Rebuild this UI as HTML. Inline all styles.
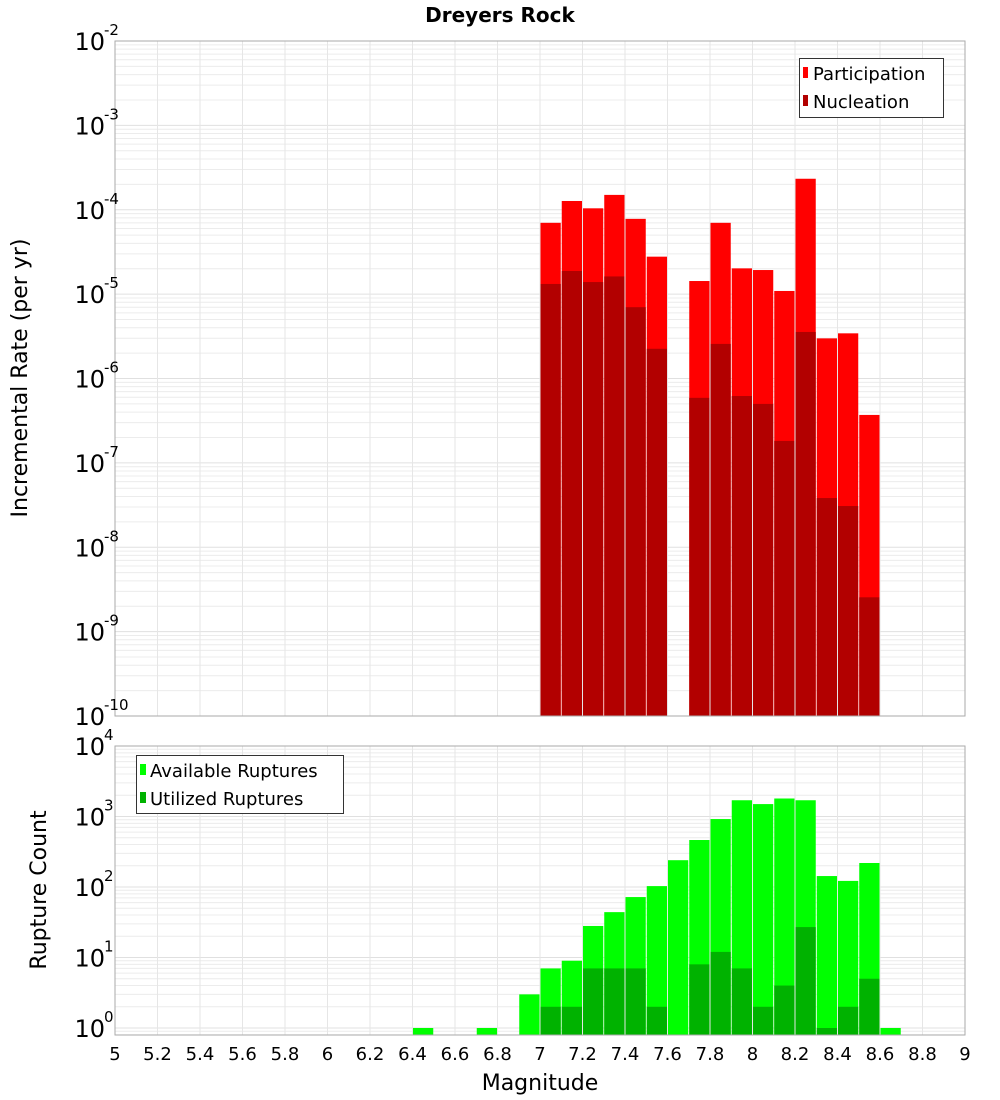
<!DOCTYPE html>
<html><head><meta charset="utf-8"><style>
body{margin:0;background:#fff;}
svg{display:block;font-family:"DejaVu Sans","Liberation Sans",sans-serif;}
</style></head><body>
<svg id="chart" width="1000" height="1100" xmlns="http://www.w3.org/2000/svg">
<text x="500" y="22" text-anchor="middle" font-size="20" font-weight="bold">Dreyers Rock</text>
<g id="topPanel"></g>
<g id="botPanel"></g>
<text transform="translate(27,378) rotate(-90)" text-anchor="middle" font-size="22">Incremental Rate (per yr)</text>
<text transform="translate(46,890) rotate(-90)" text-anchor="middle" font-size="22">Rupture Count</text>
<text x="540" y="1090" text-anchor="middle" font-size="22">Magnitude</text>
</svg>
<script>
const rateMags = [7.05,7.15,7.25,7.35,7.45,7.55,7.75,7.85,7.95,8.05,8.15,8.25,8.35,8.45,8.55];
const participation = [7.0e-5,1.27e-4,1.04e-4,1.5e-4,7.8e-5,2.78e-5,1.43e-5,7.0e-5,2.02e-5,1.93e-5,1.09e-5,2.33e-4,2.99e-6,3.43e-6,3.7e-7];
const nucleation = [1.32e-5,1.88e-5,1.39e-5,1.62e-5,7.0e-6,2.25e-6,5.9e-7,2.57e-6,6.2e-7,5.0e-7,1.82e-7,3.56e-6,3.83e-8,3.08e-8,2.55e-9];
const countMags = [6.45,6.75,6.95,7.05,7.15,7.25,7.35,7.45,7.55,7.65,7.75,7.85,7.95,8.05,8.15,8.25,8.35,8.45,8.55,8.65];
const available = [1,1,3,7,9,28,44,72,103,240,464,920,1700,1500,1800,1700,143,122,219,1];
const utilizedMags = [7.05,7.15,7.25,7.35,7.45,7.55,7.75,7.85,7.95,8.05,8.15,8.25,8.35,8.45,8.55];
const utilized = [2,2,7,7,7,2,8,12,7,2,4,27,1,2,5];
const xTicks = [5,5.2,5.4,5.6,5.8,6,6.2,6.4,6.6,6.8,7,7.2,7.4,7.6,7.8,8,8.2,8.4,8.6,8.8,9];
const rateExps = [-10,-9,-8,-7,-6,-5,-4,-3,-2];
const countExps = [0,1,2,3,4];

const NS="http://www.w3.org/2000/svg";
const L=115,R=965;
const xs=m=>L+(m-5)*(R-L)/4;
const yTop=v=>41-(Math.log10(v)+2)*84.375;
const yBot=v=>1028-Math.log10(v)*70.5;
function mk(p,t,a){const e=document.createElementNS(NS,t);for(const k in a)e.setAttribute(k,a[k]);p.appendChild(e);return e;}
const gTop=document.getElementById('topPanel'),gBot=document.getElementById('botPanel');

function grid(g,y0,y1,yf,exps){
  mk(g,'rect',{x:L,y:y0,width:R-L,height:y1-y0,fill:'#fff'});
  for(const e of exps){for(let k=1;k<10;k++){const v=k*Math.pow(10,e);const y=yf(v);if(y<y0||y>y1)continue;
    const ln=mk(g,'line',{x1:L,x2:R,y1:y,y2:y,stroke:k==1?'#e0e0e0':'#ececec','stroke-width':1});
    
    }}
  for(const t of xTicks){const x=xs(t);const ln=mk(g,'line',{x1:x,x2:x,y1:y0,y2:y1,stroke:'#e6e6e6'});
    
    }
}
function ylabels(g,exps,yf){
  for(const e of exps){const y=yf(Math.pow(10,e));
    const t=mk(g,'text',{x:105,y:y+9,'text-anchor':'end','font-size':24});
    
    
    t.textContent='10';
    const s=mk(g,'text',{x:104,y:y-6,'font-size':15});s.textContent=e;
    
    }
}
function bar(g,m,v,yf,base,fill,name){const x=xs(m-0.05)+0.5,w=(R-L)/40-1;const y=yf(v);
  const r=mk(g,'rect',{x:x,y:y,width:w,height:base-y,fill:fill});
  
  }

grid(gTop,41,716,yTop,[-10,-9,-8,-7,-6,-5,-4,-3]);
rateMags.forEach((m,i)=>bar(gTop,m,participation[i],yTop,716,'#ff0000','participation-bar'));
rateMags.forEach((m,i)=>bar(gTop,m,nucleation[i],yTop,716,'#b20000','nucleation-bar'));
mk(gTop,'rect',{x:L,y:41,width:R-L,height:675,fill:'none',stroke:'#aaa'});
ylabels(gTop,rateExps,yTop);
const lg=mk(gTop,'g',{});


mk(lg,'rect',{x:799.5,y:58.5,width:144,height:59,fill:'#fff',stroke:'#333'});
mk(lg,'rect',{x:803,y:67,width:5,height:11,fill:'#ff0000'});
mk(lg,'rect',{x:803,y:95,width:5,height:11,fill:'#b20000'});
let tt=mk(lg,'text',{x:813,y:80,'font-size':18});tt.textContent='Participation';
tt=mk(lg,'text',{x:813,y:108,'font-size':18});tt.textContent='Nucleation';

grid(gBot,746,1035,yBot,[-1,0,1,2,3]);
countMags.forEach((m,i)=>bar(gBot,m,available[i],yBot,1035,'#00ff00','available-bar'));
utilizedMags.forEach((m,i)=>bar(gBot,m,utilized[i],yBot,1035,'#00b200','utilized-bar'));
mk(gBot,'rect',{x:L,y:746,width:R-L,height:289,fill:'none',stroke:'#aaa'});
ylabels(gBot,countExps,yBot);
const lb=mk(gBot,'g',{});


mk(lb,'rect',{x:136.5,y:755.5,width:207,height:58,fill:'#fff',stroke:'#333'});
mk(lb,'rect',{x:140,y:764,width:6,height:11,fill:'#00ff00'});
mk(lb,'rect',{x:140,y:792,width:6,height:11,fill:'#00b200'});
tt=mk(lb,'text',{x:150,y:777,'font-size':18});tt.textContent='Available Ruptures';
tt=mk(lb,'text',{x:150,y:805,'font-size':18});tt.textContent='Utilized Ruptures';

for(const v of xTicks){const tx=mk(gBot,'text',{x:xs(v),y:1060,'text-anchor':'middle','font-size':18});
  
  
  tx.textContent=String(v);}
</script>
</body></html>
